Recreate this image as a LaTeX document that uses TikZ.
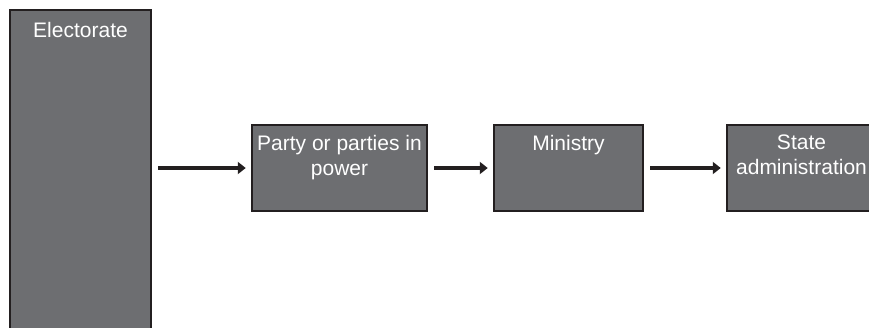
\documentclass[tikz,border=0pt]{standalone}
\usepackage{fontspec}
\setmainfont{Liberation Sans}
\usetikzlibrary{arrows.meta,calc}
\definecolor{boxfill}{HTML}{6D6E71}
\definecolor{boxline}{HTML}{231F20}
\tikzset{
  box/.style={draw=boxline, line width=2.5pt, fill=boxfill, rectangle, inner sep=0pt},
  lbl/.style={text=white, font=\fontsize{21}{25}\selectfont, align=center, anchor=north, inner sep=0pt},
  flow/.style={draw=boxline, line width=4.5pt, -{Triangle[length=8pt,width=12pt]}, shorten <=6pt, shorten >=5pt}
}
\begin{document}
\begin{tikzpicture}[x=1pt,y=-1pt]
\useasboundingbox (0,0) rectangle (869,327);
\clip (0,0) rectangle (869,327);
\node[box, minimum width=141pt, minimum height=330pt] (e) at (80.5,175) {};
\node[box, minimum width=175pt, minimum height=86pt] (p) at (339.5,168) {};
\node[box, minimum width=149pt, minimum height=86pt] (m) at (568.5,168) {};
\node[box, minimum width=149pt, minimum height=86pt] (s) at (801.5,168) {};
\node[lbl] (et) at (80.5,22) {Electorate};
\node[lbl] (pt) at (339.5,135) {Party or parties in\\power};
\node[lbl] (mt) at (568.5,135) {Ministry};
\node[lbl] (st) at (801.5,135) {State\\administration};
\draw[flow] (e.east |- p.west) -- (p.west);
\draw[flow] (p.east) -- (m.west);
\draw[flow] (m.east) -- (s.west);
\end{tikzpicture}
\end{document}
